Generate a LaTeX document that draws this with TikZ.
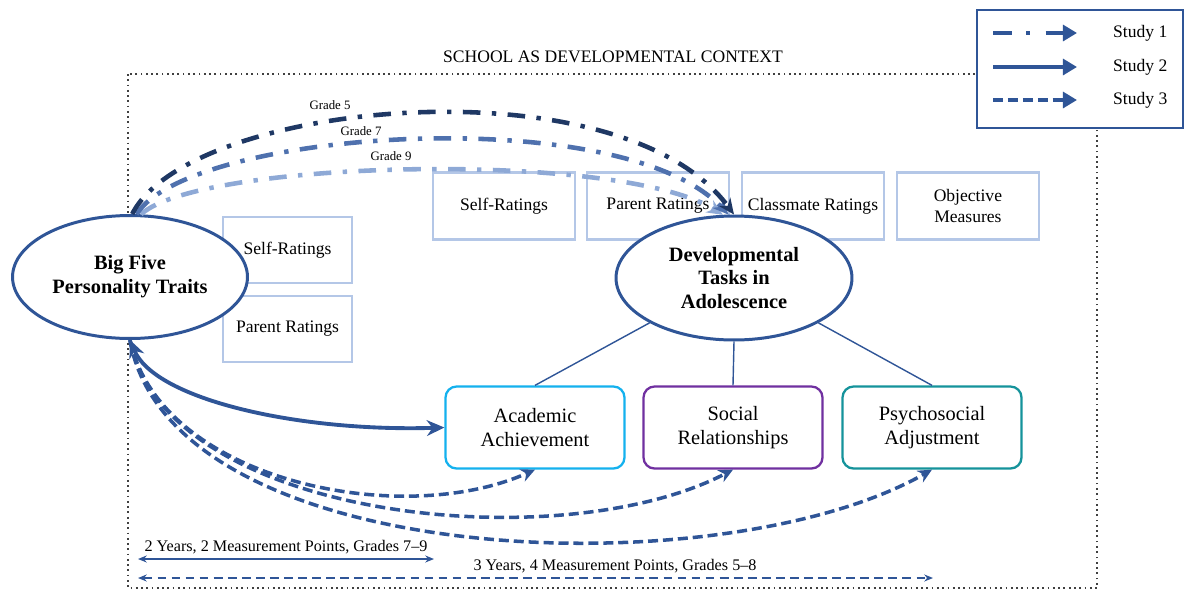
\documentclass[tikz,border=0pt]{standalone}
\usepackage{fontspec}
\setmainfont{Liberation Serif}
\usepackage{tikz}
\usetikzlibrary{arrows.meta, positioning, shapes.geometric}

\definecolor{navy}{HTML}{2F5597}
\definecolor{gradefive}{HTML}{1F3864}
\definecolor{gradeseven}{HTML}{4F71AE}
\definecolor{gradenine}{HTML}{8EA9D6}
\definecolor{ratecol}{HTML}{B4C7E7}
\definecolor{acadcol}{HTML}{14B1EE}
\definecolor{socicol}{HTML}{7030A0}
\definecolor{psycol}{HTML}{15939B}

\tikzset{
  rating/.style={draw=ratecol, line width=1.2pt, fill=white, minimum width=2.58cm, minimum height=1.32cm, inner sep=0pt, outer sep=0pt, align=center, font=\fontsize{10}{12}\selectfont},
  toprating/.style={rating, minimum width=2.84cm, minimum height=1.34cm},
  construct/.style={ellipse, draw=navy, line width=1.7pt, fill=white, inner sep=0pt, align=center, font=\fontsize{11.6}{13.6}\selectfont\bfseries},
  task/.style={draw, rounded corners=0.22cm, line width=1.3pt, fill=white, minimum width=3.58cm, minimum height=1.64cm, inner sep=0pt, align=center, font=\fontsize{11.6}{14}\selectfont},
  studyone/.style={line width=2.6pt, dash pattern=on 10pt off 6.5pt on 2.5pt off 6.5pt, -{Stealth[length=9pt,width=8pt]}},
  studytwo/.style={navy, line width=2.2pt},
  studythree/.style={navy, line width=2pt, dash pattern=on 5.7pt off 2.8pt, -{Stealth[length=8pt,width=7.5pt]}},
  span/.style={navy, line width=0.7pt, {Stealth[length=5pt,width=4pt]}-{Stealth[length=5pt,width=4pt]}},
  grade/.style={font=\fontsize{7.3}{8}\selectfont},
  legarrow/.style={navy, line width=2.3pt, -{Triangle[length=8pt,width=9pt]}},
  legtext/.style={anchor=west, font=\fontsize{10}{12}\selectfont},
}

\begin{document}
\begin{tikzpicture}[x=0.02cm, y=-0.02cm]
  \useasboundingbox (0,0) rectangle (1190,592);
  \draw[dotted, line width=1pt, black!75] (128,74) rectangle (1097,588); %文脈の枠
  \node[font=\fontsize{10}{12}\selectfont] (context) at (613,57) {SCHOOL AS DEVELOPMENTAL CONTEXT};

  % 性格特性と評定
  \node[rating] (selfbf) at (287.5,250) {Self-Ratings};
  \node[rating, below=0.26cm of selfbf] (parentbf) {Parent Ratings};
  \node[construct, minimum width=4.7cm, minimum height=2.46cm] (bigfive) at (130,277) {Big Five\\Personality Traits};

  % 発達課題の評定
  \node[toprating] (selfdt) at (504,206) {Self-Ratings};
  \node[toprating, right=0.24cm of selfdt] (parentdt) {Parent Ratings};
  \node[toprating, right=0.26cm of parentdt] (classdt) {Classmate Ratings};
  \node[toprating, right=0.26cm of classdt] (objdt) {Objective\\Measures};
  \node[construct, minimum width=4.72cm, minimum height=2.48cm] (dev) at (734,278) {Developmental\\Tasks in\\Adolescence};

  % 三つの課題
  \node[task, draw=acadcol] (acad) at (535,427.5) {Academic\\Achievement};
  \node[task, draw=socicol] (soc) at (733,427.5) {Social\\Relationships};
  \node[task, draw=psycol] (psy) at (932,427.5) {Psychosocial\\Adjustment};
  \draw[navy, line width=0.8pt] (dev.south west) -- (acad.north);
  \draw[navy, line width=0.8pt] (dev.south) -- (soc.north);
  \draw[navy, line width=0.8pt] (dev.south east) -- (psy.north);

  % Study 1
  \draw[studyone, gradenine] (bigfive.80) .. controls (200,160) and (620,150) .. (dev.100);
  \draw[studyone, gradeseven] (bigfive.84) .. controls (190,130) and (620,100) .. (dev.95);
  \draw[studyone, gradefive] (bigfive.88) .. controls (190,100) and (620,60) .. (dev.north);
  \node[grade] (g5) at (330,105) {Grade 5};
  \node[grade] (g7) at (361,131) {Grade 7};
  \node[grade] (g9) at (391,156) {Grade 9};

  % Study 2
  \draw[studytwo, {Stealth[length=10pt,width=9pt]}-{Stealth[length=10pt,width=9pt]}] (bigfive.south) .. controls (155,400) and (300,432) .. (acad.west);

  % Study 3
  \draw[studythree] (bigfive.south) .. controls (160,480) and (400,530) .. (acad.south);
  \draw[studythree] (bigfive.south) .. controls (165,520) and (560,560) .. (soc.south);
  \draw[studythree] (bigfive.south) .. controls (170,570) and (720,590) .. (psy.south);

  % 期間
  \coordinate (twoa) at (138,559);
  \coordinate (twob) at (434,559);
  \coordinate (threea) at (138,578);
  \coordinate (threeb) at (933,578);
  \draw[span] (twoa) -- (twob) node[midway, above=-1pt, black, font=\fontsize{9.2}{11}\selectfont] (twolab) {2 Years, 2 Measurement Points, Grades 7--9};
  \draw[span, dash pattern=on 5pt off 3pt] (threea) -- (threeb) node[pos=0.6, above=-1pt, black, font=\fontsize{9.2}{11}\selectfont] (threelab) {3 Years, 4 Measurement Points, Grades 5--8};

  % 凡例
  \node[draw=navy, line width=1pt, fill=white, minimum width=4.12cm, minimum height=2.36cm, inner sep=0pt] (legend) at (1080,69) {};
  \foreach \i/\y in {1/33, 2/67, 3/100} {
    \coordinate (la\i) at (993,\y);
    \coordinate (lb\i) at (1077,\y);
    \node[legtext] (lt\i) at (1107,\y) {Study \i};
  }
  \draw[legarrow, dash pattern=on 11pt off 8pt on 2pt off 9pt] (la1) -- (lb1);
  \draw[legarrow] (la2) -- (lb2);
  \draw[legarrow, dash pattern=on 5.7pt off 2.8pt] (la3) -- (lb3);
\end{tikzpicture}
\end{document}
